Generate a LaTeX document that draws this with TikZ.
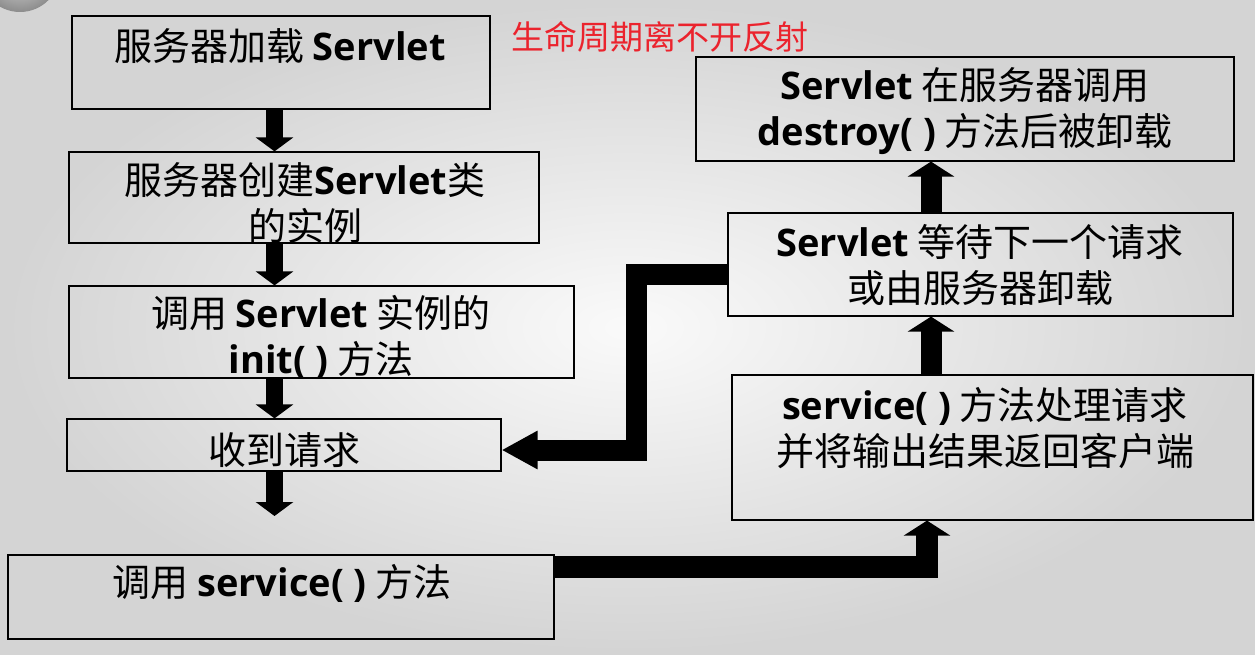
\documentclass[tikz,border=0pt]{standalone}
\usepackage{fontspec}
\newfontfamily\cjk{Noto Sans CJK SC}
\newfontfamily\lat{Open Sans}
\usetikzlibrary{arrows.meta,calc}
\newcommand\latb[1]{{\lat\bfseries #1}}
\definecolor{redt}{RGB}{235,35,45}
\begin{document}
\begin{tikzpicture}[x=1pt,y=-1pt,
  box/.style={draw=black, line width=1.2pt, rectangle, inner sep=0pt},
  txt/.style={font=\cjk\fontsize{38}{46}\selectfont, align=center, inner sep=0pt, text=black},
  downarr/.style={line width=17pt, -{Triangle[width=37pt,length=14pt]}},
  uparr/.style={line width=21pt, -{Triangle[width=46pt,length=15pt]}},
  bentarr/.style={line width=21pt, line join=miter, -{Triangle[width=36pt,length=36pt]}}
]
\useasboundingbox (0,0) rectangle (1255,655);
\shade[inner color=black!2, outer color=black!17] (0,0) rectangle (1255,655);
\shade[inner color=black!12, outer color=black!45] (20,-28) circle (40);

% boxes
\node[box, minimum width=418, minimum height=93]  (b1) at (281,62.5) {};
\node[box, minimum width=470, minimum height=91]  (b2) at (304,197.5) {};
\node[box, minimum width=505, minimum height=92]  (b3) at (321.5,332) {};
\node[box, minimum width=434, minimum height=52]  (b4) at (284,445) {};
\node[box, minimum width=546, minimum height=84]  (b5) at (281,597) {};
\node[box, minimum width=521, minimum height=145] (b6) at (992.5,447.5) {};
\node[box, minimum width=505, minimum height=103] (b7) at (980.5,264.5) {};
\node[box, minimum width=538, minimum height=104] (b8) at (965,109) {};

% texts
\node[txt] (t1) at (280,46) {服务器加载 \latb{Servlet}};
\node[txt] (t2) at (305,203.5) {服务器创建\latb{Servlet}类\\的实例};
\node[txt] (t3) at (321,337.5) {调用 \latb{Servlet} 实例的\\\latb{init( )} 方法};
\node[txt] (t4) at (284,450) {收到请求};
\node[txt] (t5) at (282,583) {调用 \latb{service( )} 方法};
\node[txt] (t6) at (985,428.5) {\latb{service( )} 方法处理请求\\并将输出结果返回客户端};
\node[txt] (t7) at (980,265.5) {\latb{Servlet} 等待下一个请求\\或由服务器卸载};
\node[txt] (t8) at (965,111.5) {\latb{Servlet} 在服务器调用\\\latb{destroy( )} 方法后被卸载};
\node[font=\cjk\fontsize{33}{38}\selectfont, text=redt, inner sep=0pt] (red) at (660,37) {生命周期离不开反射};

% arrows
\coordinate (ax) at (274.5,0);
\coordinate (a4) at (274.5,516);
\draw[downarr] (b1.south -| ax) -- (b2.north -| ax);
\draw[downarr] (b2.south -| ax) -- (b3.north -| ax);
\draw[downarr] (b3.south -| ax) -- (b4.north -| ax);
\draw[downarr] (b4.south -| ax) -- (a4);

\coordinate (bx) at (931,0);
\draw[uparr] (b7.north -| bx) -- (b8.south -| bx);
\draw[uparr] (b6.north -| bx) -- (b7.south -| bx);

\coordinate (cx) at (927,0);
\draw[uparr, line width=22pt, line join=miter] ($(b5.north east)+(0,13)$) -| (b6.south -| cx);

\coordinate (dx) at (636,0);
\draw[bentarr] ($(b7.west)+(0,10)$) -| ($(b4.east -| dx)+(0,5)$) -- ($(b4.east)+(0,5)$);
\end{tikzpicture}
\end{document}
